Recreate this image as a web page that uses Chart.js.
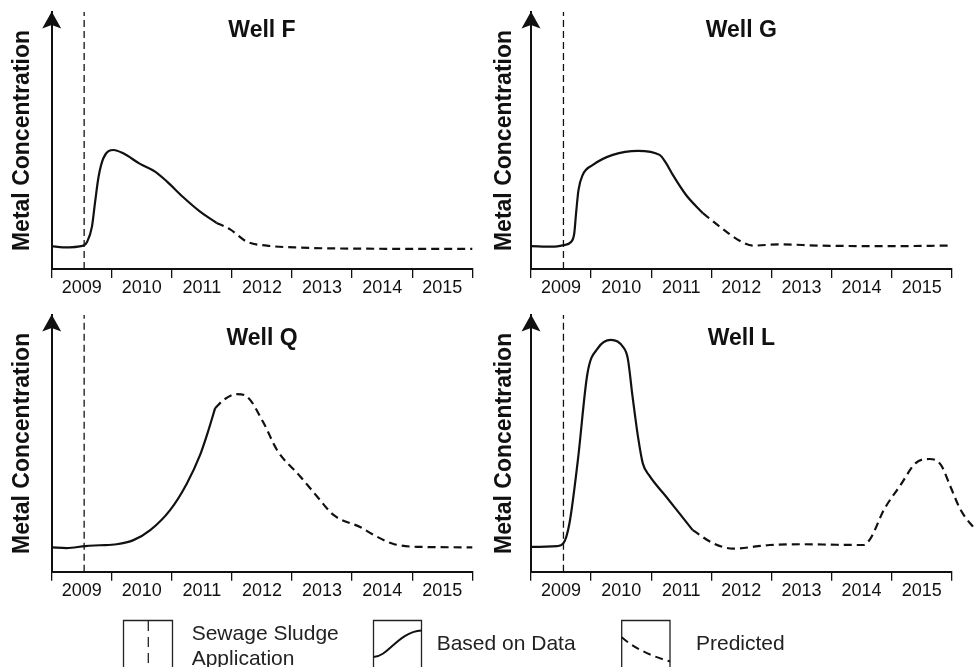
<!DOCTYPE html>
<html>
<head>
<meta charset="utf-8">
<script src="https://cdn.jsdelivr.net/npm/chart.js@4.4.1/dist/chart.umd.min.js"></script>
<style>
  html, body { margin: 0; padding: 0; background: #fff; }
  body { width: 976px; height: 667px; overflow: hidden; position: relative; }
  canvas { position: absolute; }
  #legend { position: absolute; left: 0; top: 0; }
</style>
</head>
<body>
<canvas id="wellF" width="488" height="305" style="left:0;top:0"></canvas>
<canvas id="wellG" width="488" height="305" style="left:488px;top:0"></canvas>
<canvas id="wellQ" width="488" height="305" style="left:0;top:305px"></canvas>
<canvas id="wellL" width="488" height="305" style="left:488px;top:305px"></canvas>

<svg id="legend" width="976" height="667" viewBox="0 0 976 667">
  <g fill="none" stroke="#222" stroke-width="1.3">
    <path d="M123.5,690 V620.5 H172.5 V690"/>
    <path d="M148.3,621 V690" stroke-dasharray="10 6"/>
    <path d="M373.5,690 V620.5 H421.5 V690"/>
    <path d="M373.5,657 C388,657 398,632 421.5,630.5" stroke="#111" stroke-width="2"/>
    <path d="M621.7,690 V620.5 H670 V690"/>
    <path d="M621.7,637.3 Q640,653 670,661.5" stroke="#111" stroke-width="2" stroke-dasharray="8 5"/>
  </g>
  <g font-family="'Liberation Sans', Arial, Helvetica, sans-serif" font-size="21" fill="#222">
    <text x="191.7" y="640">Sewage Sludge</text>
    <text x="191.7" y="665">Application</text>
    <text x="436.7" y="650">Based on Data</text>
    <text x="696" y="650">Predicted</text>
  </g>
</svg>

<script>
// ==================== DATA ====================
const yearLabels = ['2009', '2010', '2011', '2012', '2013', '2014', '2015'];
const yearBounds = [2009, 2010, 2011, 2012, 2013, 2014, 2015, 2016];
const sludgeYear = 2009.54;

// [year, relative concentration 0-100]
const wellFData = [[2009.0, 8.9], [2009.19, 8.4], [2009.53, 9.1], [2009.59, 10.6], [2009.67, 16.5], [2009.72, 25.6],
  [2009.78, 35.9], [2009.86, 43.1], [2010.03, 46.3], [2010.19, 45.0], [2010.47, 40.9], [2010.72, 37.9],
  [2010.92, 34.0], [2011.19, 27.9], [2011.47, 22.3], [2011.74, 18.0]];
const wellFPred = [[2011.74, 18.0], [2011.97, 15.4], [2012.25, 10.6], [2012.58, 9.1], [2013.14, 8.3], [2014.25, 7.9], [2016.0, 7.8]];

const wellGData = [[2009.0, 8.9], [2009.36, 8.7], [2009.54, 9.3], [2009.67, 10.6], [2009.72, 13.9], [2009.75, 21.7],
  [2009.79, 30.7], [2009.86, 36.6], [2010.03, 40.5], [2010.36, 44.4], [2010.78, 46.0], [2011.14, 44.4],
  [2011.25, 41.1], [2011.36, 36.6], [2011.58, 28.8], [2011.86, 21.7]];
const wellGPred = [[2011.86, 21.7], [2012.14, 16.5], [2012.47, 11.0], [2012.69, 9.1], [2013.14, 9.6], [2013.81, 9.1], [2014.92, 8.9], [2016.0, 9.1]];

const wellQData = [[2009.0, 9.5], [2009.25, 9.2], [2009.56, 10.0], [2009.8, 10.3], [2010.08, 10.7], [2010.36, 12.3],
  [2010.64, 16.2], [2010.97, 24.0], [2011.25, 34.4], [2011.47, 45.5], [2011.61, 55.2], [2011.72, 63.7]];
const wellQPred = [[2011.72, 63.7], [2011.86, 66.9], [2012.08, 69.2], [2012.25, 68.2], [2012.53, 57.8], [2012.75, 47.4],
  [2013.14, 37.0], [2013.42, 29.2], [2013.69, 22.1], [2014.14, 17.3], [2014.36, 14.3], [2014.69, 10.8],
  [2015.08, 9.7], [2016.0, 9.5]];

const wellLData = [[2009.0, 9.7], [2009.44, 10.0], [2009.54, 11.1], [2009.64, 18.9], [2009.78, 43.5], [2009.94, 77.3],
  [2010.11, 87.0], [2010.33, 90.3], [2010.53, 87.6], [2010.61, 83.1], [2010.69, 68.2], [2010.78, 52.6],
  [2010.86, 42.2], [2010.97, 37.4], [2011.25, 29.2], [2011.47, 22.7], [2011.69, 16.2]];
const wellLPred = [[2011.69, 16.2], [2012.03, 11.1], [2012.36, 9.0], [2012.97, 10.4], [2013.53, 10.7], [2014.08, 10.5],
  [2014.53, 10.4], [2014.65, 13.0], [2014.87, 24.0], [2015.15, 33.8], [2015.4, 42.3], [2015.63, 43.9],
  [2015.82, 41.6], [2015.98, 33.1], [2016.15, 24.0], [2016.4, 16.2]];

// ==================== STYLE ====================
const INK = '#111';
const FONT = '"Liberation Sans", Arial, Helvetica, sans-serif';

// arrow head on the y axis + panel title
const decor = {
  id: 'decor',
  afterDraw(chart, args, opts) {
    const { ctx, chartArea: a } = chart;
    ctx.save();
    ctx.fillStyle = INK;
    ctx.beginPath();
    ctx.moveTo(a.left, a.top - 0.5);
    ctx.lineTo(a.left + 9.5, a.top + 16.5);
    ctx.lineTo(a.left, a.top + 13);
    ctx.lineTo(a.left - 9.5, a.top + 16.5);
    ctx.closePath();
    ctx.fill();

    ctx.font = 'bold 23px ' + FONT;
    ctx.textAlign = 'center';
    ctx.textBaseline = 'alphabetic';
    ctx.fillText(opts.title, (a.left + a.right) / 2, a.top + opts.titleDy);
    ctx.restore();
  }
};

const toXY = arr => arr.map(p => ({ x: p[0], y: p[1] }));

function makePanel(id, title, solid, pred, box) {
  return new Chart(document.getElementById(id), {
    type: 'line',
    data: {
      datasets: [
        { data: toXY(solid), borderColor: INK, borderWidth: 2.2, pointRadius: 0, cubicInterpolationMode: 'monotone' },
        { data: toXY(pred), borderColor: INK, borderWidth: 2.2, borderDash: [8, 5], pointRadius: 0, cubicInterpolationMode: 'monotone', clip: false },
        { data: [{ x: sludgeYear, y: 0 }, { x: sludgeYear, y: 100 }], borderColor: INK, borderWidth: 1.3, borderDash: [7, 4], pointRadius: 0 }
      ]
    },
    options: {
      responsive: false,
      animation: false,
      events: [],
      layout: { padding: { left: 0, right: box.right, top: box.top, bottom: 0 } },
      plugins: {
        legend: { display: false },
        tooltip: { enabled: false },
        decor: { title: title, titleDy: box.titleDy }
      },
      scales: {
        x: {
          type: 'linear',
          bounds: 'data',
          // range fixed here (not via min/max) so the Well L tail past 2016 is still drawn
          afterDataLimits: s => {
            s.min = yearBounds[0];
            s.max = yearBounds[yearBounds.length - 1];
          },
          afterBuildTicks: s => {
            const t = [];
            yearBounds.forEach((y, i) => {
              t.push({ value: y });
              if (i < yearBounds.length - 1) t.push({ value: y + 0.5 });
            });
            s.ticks = t;
          },
          afterFit: s => { s.height = box.xh; },
          ticks: {
            autoSkip: false, maxRotation: 0, minRotation: 0, padding: 1.5, color: INK, stepSize: 0.5,
            font: { family: FONT, size: 18, lineHeight: 1 },
            callback: v => (v % 1) ? yearLabels[Math.floor(v) - yearBounds[0]] : ''
          },
          grid: {
            drawOnChartArea: false, drawTicks: true, tickLength: 9, lineWidth: 1.3,
            color: c => (c.tick && c.tick.value % 1 === 0) ? INK : 'rgba(0,0,0,0)'
          },
          border: { display: true, color: INK, width: 2 }
        },
        y: {
          min: 0, max: 100,
          ticks: { display: false },
          grid: { display: false, drawTicks: false },
          border: { display: true, color: INK, width: 2 },
          title: {
            display: true, text: 'Metal Concentration', color: INK,
            font: { family: FONT, size: 23, weight: 'bold' },
            padding: { top: box.titlePad, bottom: 0 }
          },
          afterFit: s => { s.width = box.left; }
        }
      }
    },
    plugins: [decor]
  });
}

makePanel('wellF', 'Well F', wellFData, wellFPred, { left: 51.7, right: 15.7, top: 12, xh: 36, titleDy: 24.7, titlePad: 9.2 });
makePanel('wellG', 'Well G', wellGData, wellGPred, { left: 43, right: 24.3, top: 12, xh: 36, titleDy: 24.7, titlePad: 3 });
makePanel('wellQ', 'Well Q', wellQData, wellQPred, { left: 51.7, right: 15.7, top: 10, xh: 38.3, titleDy: 30, titlePad: 9.2 });
makePanel('wellL', 'Well L', wellLData, wellLPred, { left: 43, right: 24.3, top: 10, xh: 38.3, titleDy: 30, titlePad: 3 });
</script>
</body>
</html>
